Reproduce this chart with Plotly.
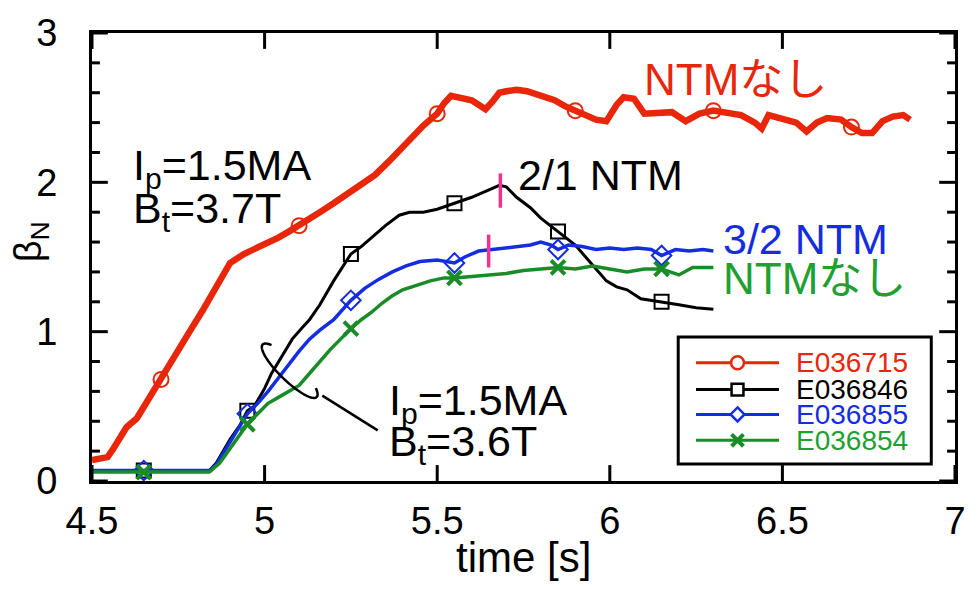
import numpy as np
import plotly.graph_objects as go

# ---------------- data ----------------
# E036715  (Ip=1.5MA, Bt=3.7T, no NTM)
t_715 = [4.50, 4.53, 4.545, 4.56, 4.575, 4.60, 4.63, 4.66, 4.70, 4.74, 4.78, 4.82, 4.85, 4.87,
         4.90, 4.94, 4.98, 5.01, 5.04, 5.07, 5.10, 5.13, 5.16, 5.20, 5.24, 5.28, 5.32, 5.36,
         5.40, 5.43, 5.46, 5.50, 5.52, 5.54, 5.56, 5.58, 5.60, 5.62, 5.64, 5.66, 5.68, 5.70,
         5.73, 5.76, 5.80, 5.84, 5.87, 5.90, 5.93, 5.96, 5.99, 6.02, 6.04, 6.07, 6.10, 6.14,
         6.18, 6.22, 6.26, 6.30, 6.34, 6.38, 6.42, 6.44, 6.46, 6.50, 6.54, 6.57, 6.60, 6.63,
         6.67, 6.70, 6.73, 6.76, 6.79, 6.82, 6.85, 6.87]
b_715 = [0.14, 0.15, 0.16, 0.21, 0.27, 0.36, 0.42, 0.53, 0.68, 0.84, 0.99, 1.14, 1.26, 1.33,
         1.46, 1.52, 1.56, 1.60, 1.63, 1.67, 1.71, 1.75, 1.80, 1.86, 1.92, 1.98, 2.05, 2.14,
         2.24, 2.32, 2.38, 2.46, 2.53, 2.58, 2.57, 2.55, 2.55, 2.52, 2.49, 2.54, 2.60, 2.61,
         2.62, 2.61, 2.58, 2.55, 2.51, 2.48, 2.46, 2.42, 2.41, 2.52, 2.57, 2.56, 2.46, 2.47,
         2.47, 2.41, 2.46, 2.48, 2.46, 2.45, 2.40, 2.36, 2.45, 2.43, 2.40, 2.34, 2.40, 2.43,
         2.42, 2.37, 2.33, 2.33, 2.41, 2.44, 2.45, 2.42]
mk_715 = [4.70, 5.10, 5.50, 5.90, 6.30, 6.70]

# E036846  (2/1 NTM)
t_846 = [4.50, 4.65, 4.84, 4.86, 4.88, 4.90, 4.93, 4.95, 4.97, 5.00, 5.02, 5.05, 5.08, 5.11,
         5.13, 5.16, 5.20, 5.25, 5.28, 5.31, 5.35, 5.39, 5.42, 5.46, 5.50, 5.55, 5.60, 5.64,
         5.68, 5.70, 5.73, 5.77, 5.80, 5.85, 5.90, 5.93, 5.96, 5.99, 6.02, 6.05, 6.09, 6.12,
         6.15, 6.20, 6.25, 6.30]
b_846 = [0.07, 0.07, 0.07, 0.12, 0.20, 0.28, 0.38, 0.47, 0.50, 0.62, 0.72, 0.84, 0.95, 1.03,
         1.08, 1.18, 1.34, 1.52, 1.57, 1.63, 1.71, 1.78, 1.80, 1.80, 1.82, 1.86, 1.90, 1.94,
         1.98, 1.97, 1.90, 1.83, 1.76, 1.67, 1.58, 1.50, 1.42, 1.34, 1.30, 1.28, 1.22, 1.21,
         1.20, 1.18, 1.16, 1.15]
mk_846 = [4.65, 4.95, 5.25, 5.55, 5.85, 6.15]

# E036855  (3/2 NTM)
t_855 = [4.50, 4.65, 4.84, 4.86, 4.89, 4.92, 4.95, 4.98, 5.01, 5.04, 5.07, 5.10, 5.13, 5.16,
         5.20, 5.25, 5.29, 5.33, 5.37, 5.41, 5.45, 5.50, 5.55, 5.58, 5.62, 5.66, 5.70, 5.74,
         5.77, 5.80, 5.83, 5.85, 5.88, 5.92, 5.96, 6.00, 6.04, 6.08, 6.12, 6.15, 6.19, 6.23,
         6.27, 6.30]
b_855 = [0.07, 0.07, 0.07, 0.11, 0.22, 0.34, 0.45, 0.52, 0.60, 0.69, 0.78, 0.87, 0.95, 1.01,
         1.08, 1.21, 1.29, 1.35, 1.40, 1.44, 1.47, 1.48, 1.46, 1.50, 1.54, 1.55, 1.56, 1.57,
         1.58, 1.60, 1.58, 1.55, 1.58, 1.57, 1.55, 1.56, 1.55, 1.56, 1.55, 1.51, 1.55, 1.54,
         1.55, 1.54]
mk_855 = [4.65, 4.95, 5.25, 5.55, 5.85, 6.15]

# E036854  (no NTM)
t_854 = [4.50, 4.65, 4.84, 4.87, 4.90, 4.93, 4.95, 4.98, 5.01, 5.04, 5.07, 5.10, 5.13, 5.16,
         5.19, 5.22, 5.25, 5.28, 5.31, 5.34, 5.37, 5.40, 5.44, 5.48, 5.52, 5.55, 5.60, 5.65,
         5.70, 5.75, 5.80, 5.85, 5.90, 5.95, 6.00, 6.05, 6.10, 6.15, 6.20, 6.24, 6.30]
b_854 = [0.06, 0.06, 0.06, 0.12, 0.22, 0.32, 0.38, 0.45, 0.52, 0.56, 0.60, 0.64, 0.72, 0.80,
         0.88, 0.95, 1.02, 1.08, 1.13, 1.19, 1.24, 1.28, 1.31, 1.34, 1.36, 1.36, 1.37, 1.38,
         1.39, 1.41, 1.42, 1.43, 1.42, 1.44, 1.42, 1.40, 1.42, 1.42, 1.38, 1.43, 1.43]
mk_854 = [4.65, 4.95, 5.25, 5.55, 5.85, 6.15]

# NTM onset markers (time, beta range)
ntm21_t, ntm21_b = 5.683, [1.83, 2.06]
ntm32_t, ntm32_b = 5.649, [1.43, 1.65]

# axis ticks
x_major = [4.5, 5.0, 5.5, 6.0, 6.5, 7.0]
y_major = [0, 1, 2, 3]
y_minor = [0.2, 0.4, 0.6, 0.8, 1.2, 1.4, 1.6, 1.8, 2.2, 2.4, 2.6, 2.8]

# ---------------- style ----------------
FONT = "Liberation Sans, Arial, Helvetica, Noto Sans CJK JP, sans-serif"
RED = "rgb(232,38,10)"
BLACK = "rgb(0,0,0)"
BLUE = "rgb(20,45,225)"
GREEN = "rgb(25,140,40)"
GREEN_T = "rgb(30,160,50)"
PINK = "rgb(240,50,140)"

series = [
    ("E036715", t_715, b_715, mk_715, RED, 6.5, "circle-open", 15, 2),
    ("E036846", t_846, b_846, mk_846, BLACK, 3, "square-open", 14, 2),
    ("E036855", t_855, b_855, mk_855, BLUE, 3.5, "diamond-open", 15, 2),
    ("E036854", t_854, b_854, mk_854, GREEN, 3.5, "x-thin", 14, 4),
]

W, H = 978, 589
L, R, T, B = 92, 13, 30, 108
PW, PH = W - L - R, H - T - B


def px_x(px):
    return (px - L) / PW


def px_y(py):
    return (H - B - py) / PH


fig = go.Figure()

for name, tt, bb, mk, col, lw, sym, ms, mlw in series:
    fig.add_trace(go.Scatter(x=tt, y=bb, mode="lines", line=dict(color=col, width=lw),
                             showlegend=False, hoverinfo="skip"))
    idx = [tt.index(m) for m in mk]
    fig.add_trace(go.Scatter(x=[tt[i] for i in idx], y=[bb[i] for i in idx], mode="markers",
                             marker=dict(symbol=sym, size=ms, color=col,
                                         line=dict(color=col, width=mlw)),
                             showlegend=False, hoverinfo="skip"))


def pshape(**kw):
    fig.add_shape(xref="paper", yref="paper", **kw)


def ppath(points):
    return "M" + " L".join(f"{px_x(a):.5f},{px_y(b):.5f}" for a, b in points)


# ---------------- tick marks (inside, on all four sides) ----------------
TK = dict(color="black", width=3)
MAJ, MIN = 16, 8
for v in x_major:
    fig.add_shape(type="line", xref="x", yref="paper", x0=v, x1=v, y0=0, y1=MAJ / PH, line=TK)
    fig.add_shape(type="line", xref="x", yref="paper", x0=v, x1=v, y0=1, y1=1 - MAJ / PH, line=TK)
for v, ln in [(v, MAJ) for v in y_major] + [(v, MIN) for v in y_minor]:
    fig.add_shape(type="line", xref="paper", yref="y", x0=0, x1=ln / PW, y0=v, y1=v, line=TK)
    fig.add_shape(type="line", xref="paper", yref="y", x0=1, x1=1 - ln / PW, y0=v, y1=v, line=TK)

# ---------------- legend (manual) ----------------
leg_rows = [362, 389, 414, 440]
mx = 745
pshape(type="rect", x0=px_x(685), x1=px_x(941), y0=px_y(464), y1=px_y(336),
       line=dict(color="black", width=3))
for (name, tt, bb, mk, col, lw, sym, ms, mlw), ry in zip(series, leg_rows):
    pshape(type="line", x0=px_x(703), x1=px_x(787), y0=px_y(ry), y1=px_y(ry),
           line=dict(color=col, width=3))
    if sym == "circle-open":
        pshape(type="circle", x0=px_x(mx - 6.5), x1=px_x(mx + 6.5), y0=px_y(ry + 6.5),
               y1=px_y(ry - 6.5), line=dict(color=col, width=2.5), fillcolor="white")
    elif sym == "square-open":
        pshape(type="rect", x0=px_x(mx - 6), x1=px_x(mx + 6), y0=px_y(ry + 6),
               y1=px_y(ry - 6), line=dict(color=col, width=2.5), fillcolor="white")
    elif sym == "diamond-open":
        pshape(type="path", path=ppath([(mx, ry - 7), (mx + 7, ry), (mx, ry + 7), (mx - 7, ry)]) + " Z",
               line=dict(color=col, width=2.5), fillcolor="white")
    else:
        pshape(type="path", path=ppath([(mx - 6, ry - 6), (mx + 6, ry + 6)]) + " " +
               ppath([(mx - 6, ry + 6), (mx + 6, ry - 6)]), line=dict(color=col, width=4))
    fig.add_annotation(xref="paper", yref="paper", x=px_x(802), y=px_y(ry), text=name,
                       showarrow=False, xanchor="left", yanchor="middle",
                       font=dict(family=FONT, size=28, color=(GREEN_T if col == GREEN else col)))

# ---------------- NTM onset ticks ----------------
fig.add_shape(type="line", xref="x", yref="y", x0=ntm21_t, x1=ntm21_t, y0=ntm21_b[0], y1=ntm21_b[1],
              line=dict(color=PINK, width=3.5))
fig.add_shape(type="line", xref="x", yref="y", x0=ntm32_t, x1=ntm32_t, y0=ntm32_b[0], y1=ntm32_b[1],
              line=dict(color=PINK, width=3.5))

# ---------------- lasso + pointer ----------------
cx, cy, ea, eb, ang = 292, 370, 38, 10, np.deg2rad(44)
th = np.deg2rad(np.linspace(215, -35, 80))
ex = cx + ea * np.cos(th) * np.cos(ang) - eb * np.sin(th) * np.sin(ang)
ey = cy + ea * np.cos(th) * np.sin(ang) + eb * np.sin(th) * np.cos(ang)
pshape(type="path", path=ppath(list(zip(ex, ey))), line=dict(color="black", width=2.5))
pshape(type="line", x0=px_x(325), y0=px_y(395), x1=px_x(381), y1=px_y(430),
       line=dict(color="black", width=2.5))


# ---------------- text annotations ----------------
def txt(x, y, s, color="black", size=43, anchor="left", angle=0):
    fig.add_annotation(xref="paper", yref="paper", x=px_x(x), y=px_y(y), text=s, showarrow=False,
                       xanchor=anchor, yanchor="middle", textangle=angle,
                       font=dict(family=FONT, size=size, color=color))


txt(648, 77, "NTMなし", RED, size=44)
txt(131, 166, "I<sub>p</sub>=1.5MA")
txt(131, 209, "B<sub>t</sub>=3.7T")
txt(521, 173, "2/1 NTM")
txt(728, 237, "3/2 NTM", BLUE)
txt(728, 277, "NTMなし", GREEN_T, size=44)
txt(390, 402, "I<sub>p</sub>=1.5MA")
txt(390, 444, "B<sub>t</sub>=3.6T")
txt(528, 558, "time [s]", size=42, anchor="center")
txt(30, 240, "β<sub>N</sub>", size=38, anchor="center", angle=-90)

axis_common = dict(showline=True, linecolor="black", linewidth=3, mirror=True,
                   ticks="", showgrid=False, zeroline=False,
                   tickfont=dict(family=FONT, size=38, color="black"))

fig.update_layout(
    width=W, height=H,
    margin=dict(l=L, r=R, t=T, b=B, pad=0),
    paper_bgcolor="white", plot_bgcolor="white",
    showlegend=False,
    xaxis=dict(range=[4.5, 7], tickvals=x_major, ticktext=[f"{v:g}" for v in x_major],
               ticklabelstandoff=4, **axis_common),
    yaxis=dict(range=[0, 3], tickvals=y_major, ticktext=[f"{v:g}" for v in y_major],
               ticklabelstandoff=24, **axis_common),
)

fig.write_html("out.html")
